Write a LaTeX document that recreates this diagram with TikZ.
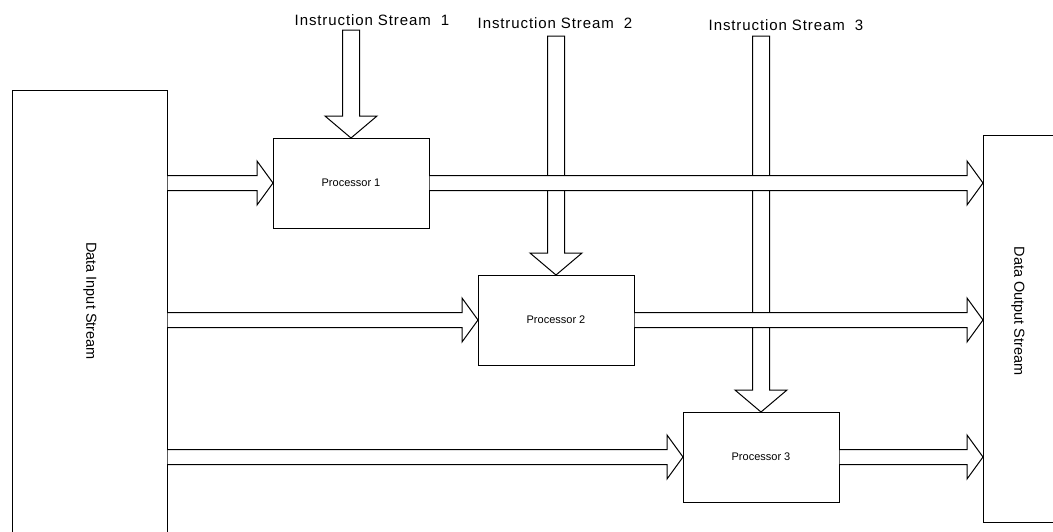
\documentclass[tikz,border=0pt]{standalone}
\usepackage{fontspec}
\setsansfont{Liberation Sans}
\newfontfamily\streamfont[LetterSpace=6]{Liberation Sans}
\usetikzlibrary{calc}

% hollow block arrows: #1 gives the start, #2 the tip
\newcommand{\fatright}[2]{%
	\fill[white] let \p1=(#1), \p2=(#2) in
	  (\x1+0.6pt,\y2+7.5pt) -- (\x2-16pt,\y2+7.5pt) -- (\x2-16pt,\y2+22pt) -- (\x2,\y2)
	  -- (\x2-16pt,\y2-22pt) -- (\x2-16pt,\y2-7.5pt) -- (\x1+0.6pt,\y2-7.5pt) -- cycle;
	\draw[fat] let \p1=(#1), \p2=(#2) in
	  (\x1,\y2+7.5pt) -- (\x2-16pt,\y2+7.5pt) -- (\x2-16pt,\y2+22pt) -- (\x2,\y2)
	  -- (\x2-16pt,\y2-22pt) -- (\x2-16pt,\y2-7.5pt) -- (\x1,\y2-7.5pt);}
\newcommand{\fatdown}[2]{%
	\draw[fat, fill=white] let \p1=(#1), \p2=(#2) in
	  (\x2-8.5pt,\y1) -- (\x2-8.5pt,\y2+22pt) -- (\x2-26pt,\y2+22pt) -- (\x2,\y2)
	  -- (\x2+26pt,\y2+22pt) -- (\x2+8.5pt,\y2+22pt) -- (\x2+8.5pt,\y1) -- cycle;}

\begin{document}
\begin{tikzpicture}[line join=miter, every node/.style={font=\sffamily},
	fat/.style={line width=1pt},
	box/.style={draw, line width=1pt, minimum width=156pt, minimum height=90pt, inner sep=0pt, outer sep=0pt, font=\sffamily\fontsize{11}{11}\selectfont},
	side/.style={inner sep=0pt, outer sep=0pt},
	instr/.style={font=\streamfont\fontsize{15}{15}\selectfont},
	datalabel/.style={rotate=-90, font=\sffamily\fontsize{14.5}{14.5}\selectfont}]
	\begin{scope}[x=1pt, y=-1pt]
		\useasboundingbox (0,0) rectangle (1053,531);
		% stream boxes, the input one runs off the bottom, the output one off the right
		\node[side, minimum width=155pt, minimum height=444pt] (datain) at (89.5,312) {};
		\node[side, minimum width=74pt, minimum height=387pt] (dataout) at (1020,328.5) {};
		\draw[line width=1pt] (datain.south west) |- (datain.north east) -- (datain.south east);
		\draw[line width=1pt] (dataout.north east) -| (dataout.south west) -- (dataout.south east);
		\node[datalabel] (inlabel) at (90,301) {Data Input Stream};
		\node[datalabel] (outlabel) at (1018,311) {Data Output Stream};

		\node[box] (proc1) at (351,183) {Processor 1};
		\node[box] (proc2) at (556,320) {Processor 2};
		\node[box] (proc3) at (761,457) {Processor 3};

		\node[instr] (instr1) at (372,20) {Instruction Stream\ \ 1};
		\node[instr] (instr2) at (555,23) {Instruction Stream\ \ 2};
		\node[instr] (instr3) at (786,25) {Instruction Stream\ \ 3};
		\coordinate (top1) at (351,30);
		\coordinate (top2) at (556,36);
		\coordinate (top3) at (761,36);

		% instruction streams first, the data arrows pass over them
		\fatdown{top1}{proc1.north}
		\fatdown{top2}{proc2.north}
		\fatdown{top3}{proc3.north}

		\fatright{datain.east}{proc1.west}
		\fatright{datain.east}{proc2.west}
		\fatright{datain.east}{proc3.west}
		\fatright{proc1.east}{dataout.west |- proc1.east}
		\fatright{proc2.east}{dataout.west |- proc2.east}
		\fatright{proc3.east}{dataout.west |- proc3.east}
	\end{scope}
\end{tikzpicture}
\end{document}
